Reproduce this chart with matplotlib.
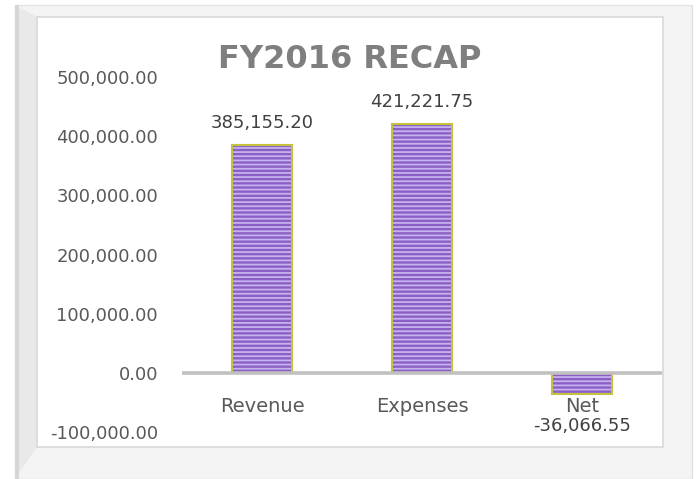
import matplotlib
matplotlib.use("Agg")
import matplotlib.pyplot as plt
from matplotlib.patches import Rectangle, Polygon

categories = ["Revenue", "Expenses", "Net"]
values = [385155.20, 421221.75, -36066.55]
value_labels = ["385,155.20", "421,221.75", "-36,066.55"]
yticks = [-100000, 0, 100000, 200000, 300000, 400000, 500000]
title = "FY2016 RECAP"

plt.rcParams['font.family'] = ['DejaVu Sans']
plt.rcParams['hatch.linewidth'] = 1.3

W, H = 698, 479
fig = plt.figure(figsize=(W / 100, H / 100), dpi=100)
fig.patch.set_facecolor('white')

def px(x0, y0, x1, y1):
    return (x0 / W, 1 - y1 / H, (x1 - x0) / W, (y1 - y0) / H)

# frame (bevel)
x, y, w, h = px(15, 5, 692, 479)
fig.patches.append(Rectangle((x, y), w, h, transform=fig.transFigure,
                             facecolor='#f4f4f4', edgecolor='#e2e2e2', lw=1, zorder=-5))
fig.patches.append(Polygon([(15 / W, 1 - 5 / H), (37 / W, 1 - 17 / H), (37 / W, 1 - 447 / H), (15 / W, 1 - 479 / H)],
                           closed=True, transform=fig.transFigure, facecolor='#e9e9e9', edgecolor='none', zorder=-4))
x, y, w, h = px(15, 5, 19, 479)
fig.patches.append(Rectangle((x, y), w, h, transform=fig.transFigure,
                             facecolor='#d6d6d6', edgecolor='none', zorder=-3))
x, y, w, h = px(37, 17, 663, 447)
fig.patches.append(Rectangle((x, y), w, h, transform=fig.transFigure,
                             facecolor='white', edgecolor='#d9d9d9', lw=1.2, zorder=-2))

ax = fig.add_axes(px(182, 77, 662, 432))
ax.set_facecolor('none')
ax.set_ylim(-100000, 500000)
ax.set_xlim(-0.5, len(categories) - 0.5)

xs = list(range(len(categories)))
bw = 0.375
ax.bar(xs, values, width=bw, color='#8a60c6', edgecolor='#c6b2ef', hatch='----', lw=0, zorder=2)
ax.bar(xs, values, width=bw, facecolor='none', edgecolor='#c4c23e', lw=1.5, zorder=3)

ax.axhline(0, color='#c0c0c0', lw=2.6, zorder=4)

for spine in ax.spines.values():
    spine.set_visible(False)
ax.set_xticks([])
ax.set_yticks(yticks)
ax.set_yticklabels([f"{v:,.2f}" for v in yticks])
ax.tick_params(axis='y', length=0, pad=17.3, labelsize=13, labelcolor='#595959')

for i, (v, lab, cat) in enumerate(zip(values, value_labels, categories)):
    ax.annotate(cat, (i, 0), xytext=(0, -28), textcoords='offset points',
                ha='center', va='baseline', fontsize=14, color='#595959')
    if v >= 0:
        ax.annotate(lab, (i, v), xytext=(0, 12), textcoords='offset points',
                    ha='center', va='baseline', fontsize=13, color='#404040')
    else:
        ax.annotate(lab, (i, 0), xytext=(0, -42), textcoords='offset points',
                    ha='center', va='baseline', fontsize=13, color='#404040')

fig.text(350 / W, 1 - 60 / H, title, ha='center', va='center', fontsize=23,
         fontweight='bold', color='#7f7f7f')

fig.savefig('out.png', dpi=100)
